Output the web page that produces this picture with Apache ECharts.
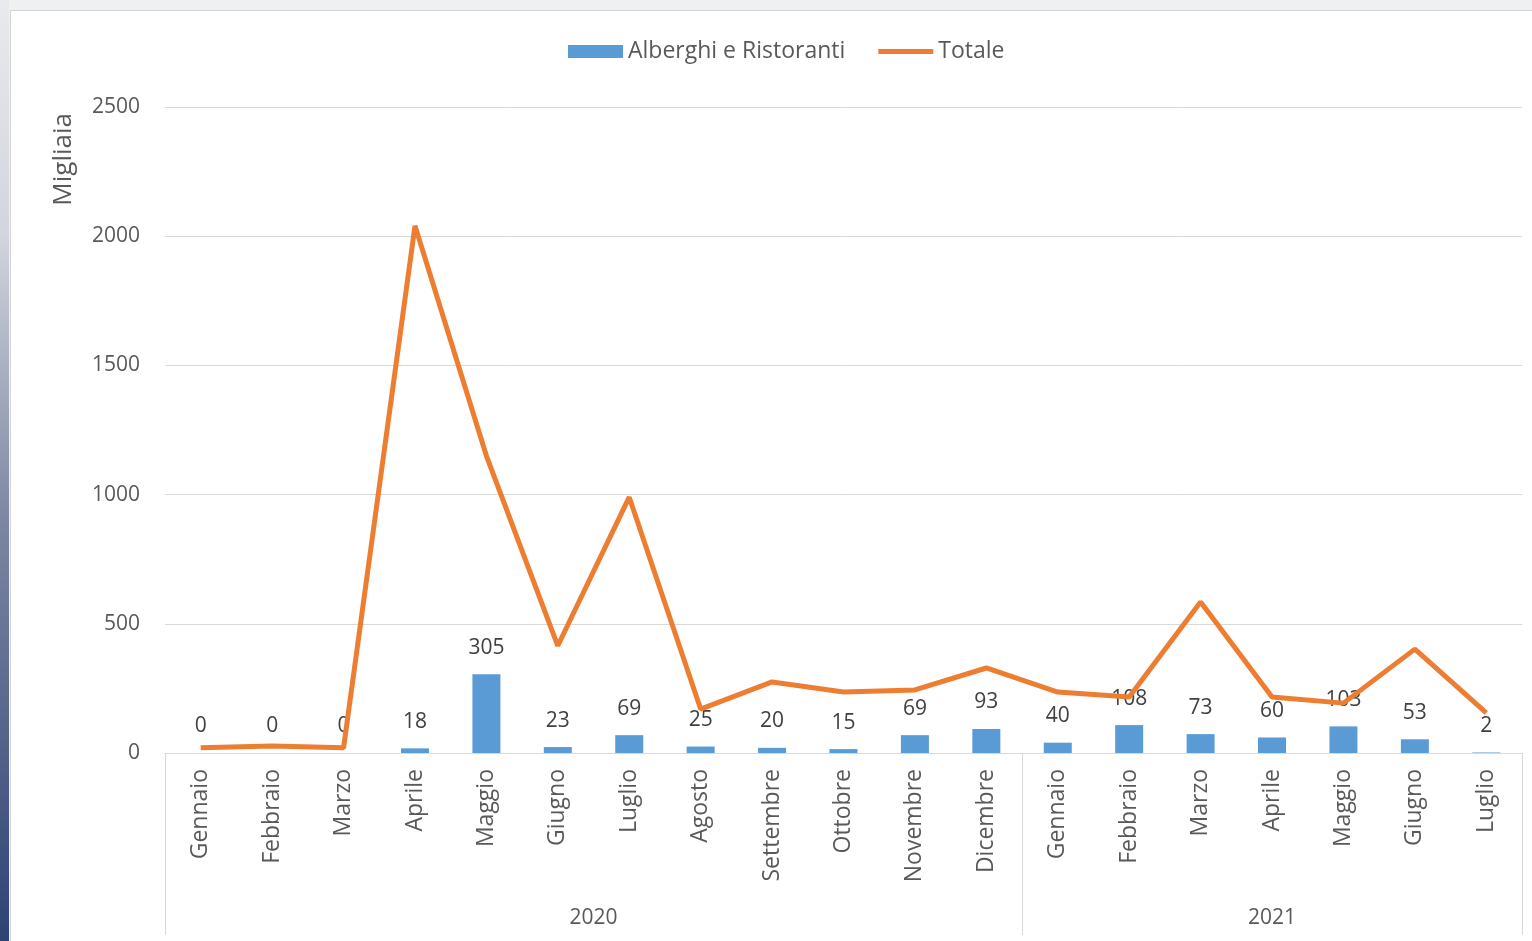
<!DOCTYPE html>
<html>
<head>
<meta charset="utf-8">
<script src="https://cdn.jsdelivr.net/npm/echarts@6/dist/echarts.min.js"></script>
<style>
  html, body { margin: 0; padding: 0; width: 1532px; height: 941px; overflow: hidden; background: #eff0f2; }
  #strip { position: absolute; left: 0; top: 0; width: 9px; height: 941px;
    background: linear-gradient(to bottom, #e9eaed 0%, #d2d5dd 25%, #7d87a3 55%, #2e4274 100%); }
  #card { position: absolute; left: 10px; top: 10px; width: 1540px; height: 950px;
    background: #fff; border: 1px solid #d4d4d4; }
  #main { position: absolute; left: 0; top: 0; width: 1532px; height: 941px; }
</style>
</head>
<body>
<div id="strip"></div>
<div id="card"></div>
<div id="main"></div>
<script>
// mesi (2020: Gennaio-Dicembre, 2021: Gennaio-Luglio)
const months = [
  "Gennaio", "Febbraio", "Marzo", "Aprile", "Maggio", "Giugno", "Luglio",
  "Agosto", "Settembre", "Ottobre", "Novembre", "Dicembre",
  "Gennaio", "Febbraio", "Marzo", "Aprile", "Maggio", "Giugno", "Luglio"
];
const years = ["2020", "2021"];
const yearSpan = [12, 7]; // mesi per anno

// valori in migliaia
const alberghi = [0, 0, 0, 18, 305, 23, 69, 25, 20, 15, 69, 93, 40, 108, 73, 60, 103, 53, 2];
const totale = [20, 27, 20, 2040, 1150, 415, 990, 170, 275, 236, 244, 329, 236, 217, 584, 217, 193, 402, 155];

const yTicks = [0, 500, 1000, 1500, 2000, 2500];

const textColor = "#595959";
const font = "Open Sans";
const fs = 21;

const chart = echarts.init(document.getElementById("main"), null, { renderer: "canvas" });

// separatori e centri degli anni sull'asse secondario
const bounds = [0];
yearSpan.forEach((n, i) => bounds.push(bounds[i] + n));
const yearCenters = yearSpan.map((n, i) => bounds[i] + n / 2);

const option = {
  backgroundColor: "transparent",
  textStyle: { fontFamily: font },
  legend: {
    top: 40,
    left: 568,
    padding: 0,
    itemWidth: 55,
    itemHeight: 13,
    itemGap: 33,
    textStyle: { color: textColor, fontSize: 23, fontFamily: font },
    data: [
      { name: "Alberghi e Ristoranti", icon: "rect" },
      { name: "Totale", icon: "path://M0,0h55v5h-55z" }
    ]
  },
  grid: { left: 165, right: 10, top: 107, bottom: 188, containLabel: false },
  graphic: [{
    type: "text",
    left: 51,
    top: 113,
    rotation: Math.PI / 2,
    style: { text: "Migliaia", fill: textColor, font: "26px 'Open Sans'" }
  }],
  xAxis: [
    {
      type: "category",
      data: months,
      axisLine: { lineStyle: { color: "#d9d9d9", width: 1 } },
      axisTick: { show: false },
      axisLabel: { rotate: 90, margin: 16, color: textColor, fontSize: 23, fontFamily: font, interval: 0 }
    },
    {
      type: "value",
      position: "bottom",
      min: 0,
      max: months.length,
      axisLine: { show: false },
      splitLine: { show: false },
      axisTick: {
        show: true,
        customValues: bounds,
        length: 182,
        lineStyle: { color: "#d9d9d9", width: 1 }
      },
      axisLabel: {
        customValues: yearCenters,
        margin: 155,
        color: textColor,
        fontSize: fs,
        fontFamily: font,
        formatter: v => years[yearCenters.indexOf(v)] || ""
      }
    }
  ],
  yAxis: {
    type: "value",
    min: yTicks[0],
    max: yTicks[yTicks.length - 1],
    interval: 500,
    axisLine: { show: false },
    axisTick: { show: false },
    splitLine: { lineStyle: { color: "#d9d9d9", width: 1 } },
    axisLabel: { margin: 25, color: textColor, fontSize: fs, fontFamily: font, formatter: v => String(v) }
  },
  series: [
    {
      name: "Alberghi e Ristoranti",
      type: "bar",
      data: alberghi,
      barWidth: 28,
      itemStyle: { color: "#5b9bd5" },
      label: {
        show: true,
        position: "top",
        distance: 16,
        color: "#404040",
        fontSize: fs,
        fontFamily: font
      },
      z: 2
    },
    {
      name: "Totale",
      type: "line",
      data: totale,
      symbol: "none",
      lineStyle: { color: "#ed7d31", width: 5 },
      itemStyle: { color: "#ed7d31" },
      z: 3
    }
  ]
};

chart.setOption(option);
</script>
</body>
</html>
